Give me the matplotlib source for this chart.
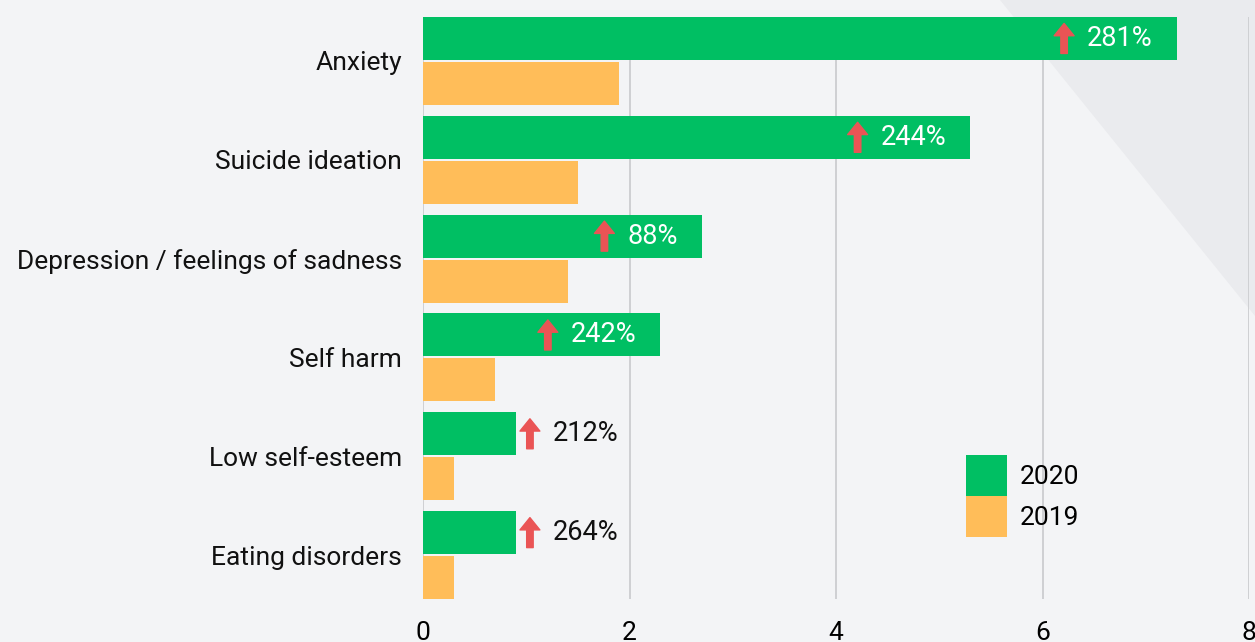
import matplotlib.pyplot as plt
from matplotlib.patches import Polygon, Patch

# --- data ---
categories = ["Anxiety", "Suicide ideation", "Depression / feelings of sadness",
              "Self harm", "Low self-esteem", "Eating disorders"]
vals_2020 = [7.3, 5.3, 2.7, 2.3, 0.9, 0.9]
vals_2019 = [1.9, 1.5, 1.4, 0.7, 0.3, 0.3]
pct_change = ["281%", "244%", "88%", "242%", "212%", "264%"]
label_inside = [True, True, True, True, False, False]

GREEN = "#00bf63"
ORANGE = "#ffbd59"
RED = "#ea5455"
BG = "#f3f4f6"

plt.rcParams['font.family'] = ['Roboto', 'DejaVu Sans']

W, H = 1255, 642
fig = plt.figure(figsize=(W / 100, H / 100), dpi=100, facecolor=BG)

# subtle darker wedge in the top right corner
fig.patches.append(Polygon([(1000 / W, 1), (1, 1 - 316 / H), (1, 1)], closed=True,
                           transform=fig.transFigure, facecolor="#eaebee",
                           edgecolor="none", zorder=-1))

ax = fig.add_axes([423 / W, 43 / H, (1249 - 423) / W, (599 - 17) / H])
ax.set_facecolor("none")
ax.set_zorder(2)

bh = 43 / 99
gap = 2 / 99
n = len(categories)
ys = list(range(n))
ax.barh([y + bh / 2 for y in ys], vals_2020, height=bh, color=GREEN, zorder=3)
ax.barh([y + bh * 1.5 + gap for y in ys], vals_2019, height=bh, color=ORANGE, zorder=3)

ax.set_xlim(0, 8)
ax.set_ylim(n - 1 + 2 * bh + gap, 0)
ax.set_xticks([0, 2, 4, 6, 8])
ax.tick_params(axis='x', length=0, pad=16, labelsize=19)
ax.set_yticks([y + bh + gap / 2 for y in ys])
ax.set_yticklabels(categories, fontsize=19, color="#111111")
ax.tick_params(axis='y', length=0, pad=15)
for s in ax.spines.values():
    s.set_visible(False)
ax.grid(axis='x', color="#cfd0d3", linewidth=1.4, zorder=1)
ax.set_axisbelow(True)

# percentage change labels with a red up arrow
fig.canvas.draw()
renderer = fig.canvas.get_renderer()
to_data = ax.transData.inverted()
for y, v, txt, inside in zip(ys, vals_2020, pct_change, label_inside):
    yc = y + bh / 2
    if inside:
        t = ax.annotate(txt, xy=(v, yc), xytext=(-24, 0), textcoords='offset pixels',
                        ha='right', va='center', fontsize=19.5, color="white", zorder=5)
    else:
        t = ax.annotate(txt, xy=(v, yc), xytext=(37, 0), textcoords='offset pixels',
                        ha='left', va='center', fontsize=19.5, color="#111111", zorder=5)
    bb = t.get_window_extent(renderer)
    cx, cy = ax.transData.transform((v, yc))
    tail = to_data.transform((bb.x0 - 23, cy - 15))
    head = to_data.transform((bb.x0 - 23, cy + 15))
    ax.annotate('', xy=head, xytext=tail,
                arrowprops=dict(arrowstyle='simple,head_length=0.34,head_width=0.55,tail_width=0.18',
                                color=RED, shrinkA=0, shrinkB=0, mutation_scale=26),
                zorder=5)

handles = [Patch(facecolor=GREEN, label="2020"), Patch(facecolor=ORANGE, label="2019")]
fig.legend(handles=handles, loc='upper left', bbox_to_anchor=(966 / W, 1 - 455 / H),
           frameon=False, fontsize=19, handlelength=1.55, handleheight=2.0,
           labelspacing=0, borderpad=0, borderaxespad=0, handletextpad=0.5)

fig.savefig("out.png", dpi=100, facecolor=BG)
